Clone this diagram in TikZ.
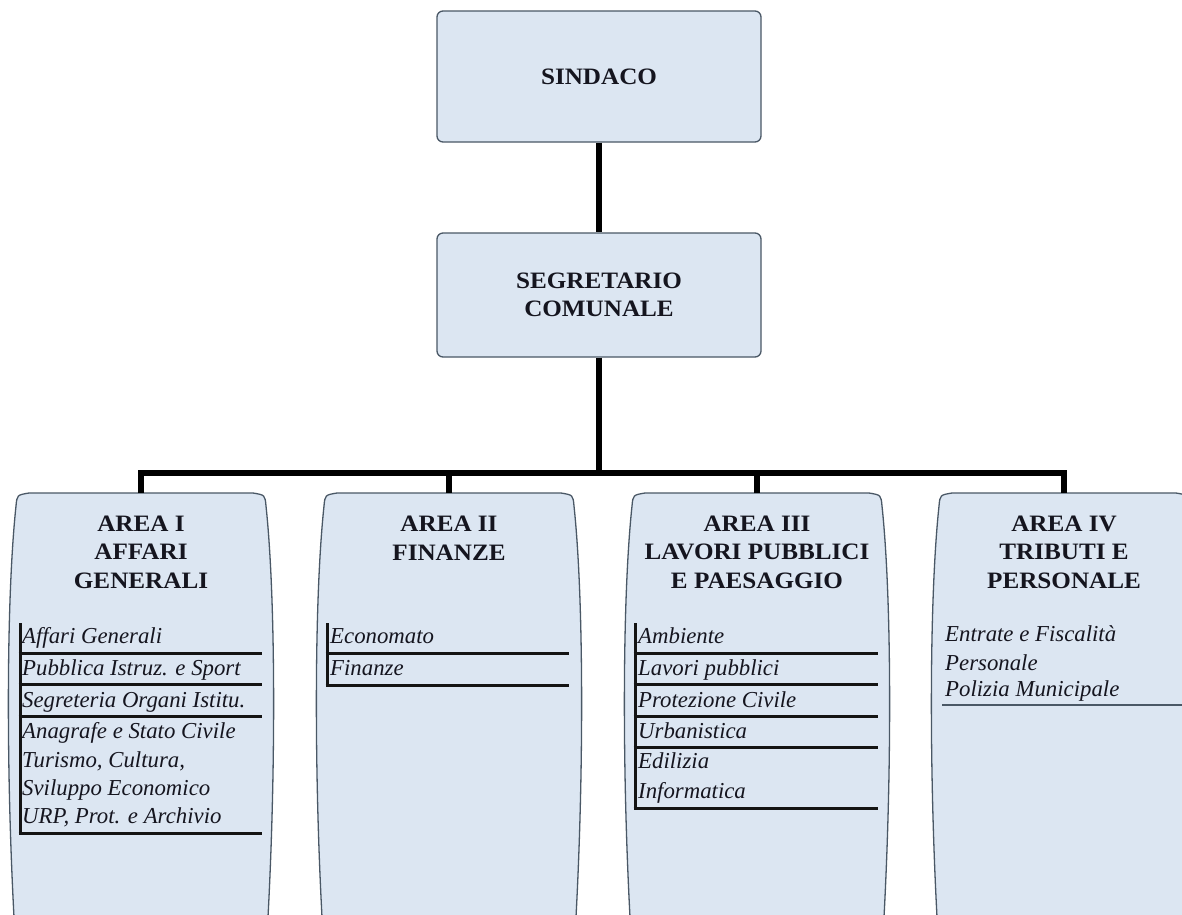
\documentclass[tikz,border=0pt]{standalone}
\usepackage{fontspec}
\setmainfont{Liberation Serif}
\newfontfamily\titlefont[FakeStretch=1.07]{Liberation Serif}
\definecolor{boxfill}{HTML}{DCE6F2}
\definecolor{boxline}{HTML}{4A5866}
\definecolor{txt}{HTML}{15151F}
\newcommand\areashape[1]{%
  \draw[areabox] ({#1-126},935) .. controls ({#1-135},780) and ({#1-135},600) .. ({#1-125},506)
    .. controls ({#1-124},495) .. ({#1-112},493) -- ({#1+112},493)
    .. controls ({#1+124},495) .. ({#1+125},506)
    .. controls ({#1+135},600) and ({#1+135},780) .. ({#1+126},935) -- cycle;}
\begin{document}
\begin{tikzpicture}[x=1pt,y=-1pt,
  topbox/.style={draw=boxline,line width=1.3pt,fill=boxfill,rounded corners=6pt,
    minimum width=324pt,inner sep=0pt,align=center,text=txt,
    font=\titlefont\bfseries\fontsize{23.5}{28.5}\selectfont},
  areabox/.style={draw=boxline,line width=1.3pt,fill=boxfill},
  title/.style={align=center,inner sep=0pt,text=txt,
    font=\titlefont\bfseries\fontsize{23.5}{28.5}\selectfont},
  item/.style={anchor=base west,inner sep=0pt,text=txt,
    font=\itshape\fontsize{22.8}{26}\selectfont},
  conn/.style={line width=5.5pt,black},
  rule/.style={line width=3pt,black!92},
  thinrule/.style={line width=2pt,boxline}]
\useasboundingbox (0,0) rectangle (1182,914);
\fill[white] (0,0) rectangle (1182,914);

% area boxes
\begin{scope}
\clip (0,0) rectangle (1182,914);
\areashape{141}
\areashape{449}
\areashape{757}
\areashape{1064}
\end{scope}

% top boxes
\node[topbox,minimum height=131pt] (sindaco) at (599,76.5) {SINDACO};
\node[topbox,minimum height=124pt] (segretario) at (599,295) {SEGRETARIO\\COMUNALE};

% connector coordinates
\coordinate (a1top) at (141,493);
\coordinate (a2top) at (449,493);
\coordinate (a3top) at (757,493);
\coordinate (a4top) at (1064,493);
\coordinate (bus) at (599,473);

\draw[conn] (sindaco.south) -- (segretario.north);
\draw[conn] (segretario.south) -- (bus);
\draw[conn] (a1top) -- (a1top |- bus) -- (a4top |- bus) -- (a4top);
\draw[conn] (a2top) -- (a2top |- bus);
\draw[conn] (a3top) -- (a3top |- bus);

% titles
\node[title] (t1) at (141,552) {AREA I\\AFFARI\\GENERALI};
\node[title] (t2) at (449,538) {AREA II\\FINANZE};
\node[title] (t3) at (757,552) {AREA III\\LAVORI PUBBLICI\\E PAESAGGIO};
\node[title] (t4) at (1064,552) {AREA IV\\TRIBUTI E\\PERSONALE};

% Area I items
\node[item] (i11) at (22,643) {Affari Generali};
\node[item] (i12) at (22,675) {Pubblica Istruz. e Sport};
\node[item] (i13) at (22,707) {Segreteria Organi Istitu.};
\node[item] (i14) at (22,738) {Anagrafe e Stato Civile};
\node[item] (i15) at (22,767) {Turismo, Cultura,};
\node[item] (i16) at (22,795) {Sviluppo Economico};
\node[item] (i17) at (22,823) {URP, Prot. e Archivio};
\draw[rule] (20,623) -- (20,834.5);
\foreach \y in {653,684,716,833} \draw[rule] (18.5,\y) -- (262,\y);

% Area II items
\node[item] (i21) at (330,643) {Economato};
\node[item] (i22) at (330,675) {Finanze};
\draw[rule] (327,623) -- (327,686.5);
\foreach \y in {653,685} \draw[rule] (325.5,\y) -- (569,\y);

% Area III items
\node[item] (i31) at (638,643) {Ambiente};
\node[item] (i32) at (638,675) {Lavori pubblici};
\node[item] (i33) at (638,707) {Protezione Civile};
\node[item] (i34) at (638,738) {Urbanistica};
\node[item] (i35) at (638,768) {Edilizia};
\node[item] (i36) at (638,798) {Informatica};
\draw[rule] (635,623) -- (635,809.5);
\foreach \y in {653,684,716,747,808} \draw[rule] (633.5,\y) -- (878,\y);

% Area IV items
\node[item] (i41) at (945,641) {Entrate e Fiscalità};
\node[item] (i42) at (945,670) {Personale};
\node[item] (i43) at (945,696) {Polizia Municipale};
\draw[thinrule] (942,705) -- (1182,705);
\end{tikzpicture}
\end{document}
